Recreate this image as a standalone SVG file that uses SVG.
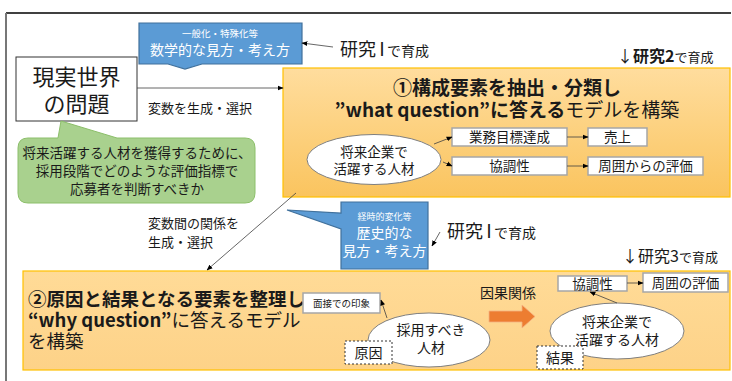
<svg xmlns="http://www.w3.org/2000/svg" width="732" height="381" viewBox="0 0 732 381">
<defs>
<linearGradient id="og1" x1="0" y1="0" x2="0" y2="1"><stop offset="0" stop-color="#ffdd9e"/><stop offset="1" stop-color="#fac45e"/></linearGradient>
<linearGradient id="og2" x1="0" y1="0" x2="0" y2="1"><stop offset="0" stop-color="#ffdb97"/><stop offset="1" stop-color="#fdd288"/></linearGradient>
<marker id="ah" viewBox="0 0 10 10" refX="9" refY="5" markerWidth="6" markerHeight="6" orient="auto" markerUnits="userSpaceOnUse"><path d="M0,1 L10,5 L0,9 z" fill="#000"/></marker>
<style>
text{font-family:"Noto Sans CJK JP","Noto Sans",sans-serif;fill:#1a1a1a}
.c{text-anchor:middle}
.w{fill:#fff}
.box{fill:#fff;stroke:#a6a6a6;stroke-width:1.5}
.dash{fill:#fff;stroke:#333;stroke-width:1;stroke-dasharray:2,2}
.ell{fill:#fff;stroke:#7f7f7f;stroke-width:1}
.blue{fill:#5b9bd5;stroke:#41719c;stroke-width:1.2}
.ln{fill:none;stroke:#404040;stroke-width:0.8;marker-end:url(#ah)}
.b{font-weight:bold}
</style>
</defs>
<rect width="732" height="381" fill="#fff"/>
<line x1="6" y1="13" x2="731" y2="13" stroke="#000" stroke-width="1.5"/>
<line x1="6" y1="13" x2="6" y2="381" stroke="#777" stroke-width="2"/>

<g id="orange1">
<rect x="283" y="68" width="447" height="129" fill="url(#og1)" stroke="#ffc000" stroke-width="1.2"/>
<text x="507" y="95" class="c b" font-size="19">①構成要素を抽出・分類し</text>
<text x="507" y="117" class="c" font-size="19"><tspan class="b">”what question”に答える</tspan>モデルを構築</text>
</g>

<g id="orange2">
<rect x="23" y="271" width="707" height="99" fill="url(#og2)" stroke="#ffc000" stroke-width="1.2"/>
<text x="28" y="306" class="b" font-size="18.5">②原因と結果となる要素を整理し</text>
<text x="28" y="327" font-size="18.5"><tspan class="b">“why question”</tspan>に答えるモデル</text>
<text x="28" y="348" font-size="18.5">を構築</text>
</g>

<g id="real">
<rect x="16" y="57" width="121" height="64" fill="#fff" stroke="#333" stroke-width="1"/>
<text x="76.5" y="85" class="c" font-size="22">現実世界</text>
<text x="76.5" y="112" class="c" font-size="22">の問題</text>
</g>

<g id="green">
<path d="M28,138 H58 L61,121 L117,138 H245 Q255,138 255,148 V193 Q255,203 245,203 H28 Q18,203 18,193 V148 Q18,138 28,138 Z" fill="#a9d18e" stroke="#8cbf6a" stroke-width="1"/>
<text x="137" y="158" class="c" font-size="13.5">将来活躍する人材を獲得するために、</text>
<text x="137" y="176" class="c" font-size="13.5">採用段階でどのような評価指標で</text>
<text x="137" y="194" class="c" font-size="13.5">応募者を判断すべきか</text>
</g>

<g id="blue1">
<path class="blue" d="M139,23 H302 V64 H202 L185,69 L168,64 H139 Z"/>
<text x="220" y="37" class="c w" font-size="9.5">一般化・特殊化等</text>
<text x="220" y="55" class="c w" font-size="14">数学的な見方・考え方</text>
</g>

<g id="blue2">
<path class="blue" d="M341,202 H428 V269 H341 V229 L287,210 L341,213 Z"/>
<text x="384.5" y="220" class="c w" font-size="9">経時的変化等</text>
<text x="384.5" y="238" class="c w" font-size="14">歴史的な</text>
<text x="384.5" y="256" class="c w" font-size="14">見方・考え方</text>
</g>

<g id="labels">
<text x="148" y="113" font-size="13">変数を生成・選択</text>
<text x="148" y="228" font-size="13">変数間の関係を</text>
<text x="148" y="247" font-size="13">生成・選択</text>
<text x="340" y="56" font-size="18">研究<tspan dx="-3">Ⅰ</tspan><tspan dx="-4" font-size="14">で育成</tspan></text>
<text x="447" y="238" font-size="18">研究<tspan dx="-3">Ⅰ</tspan><tspan dx="-4" font-size="14">で育成</tspan></text>
<text x="617" y="62" font-size="16">↓<tspan class="b">研究2</tspan><tspan font-size="13">で育成</tspan></text>
<text x="622" y="262" font-size="16">↓研究3<tspan font-size="13">で育成</tspan></text>
<text x="480" y="298" font-size="14">因果関係</text>
</g>

<g id="e1">
<ellipse cx="374" cy="159.5" rx="67" ry="25" class="ell"/>
<text x="374" y="157" class="c" font-size="13.5">将来企業で</text>
<text x="374" y="174" class="c" font-size="13.5">活躍する人材</text>
</g>
<g id="b_gyomu"><rect x="452" y="128" width="115" height="18" class="box"/><text x="509.5" y="142" class="c" font-size="13.5">業務目標達成</text></g>
<g id="b_kyocho1"><rect x="452" y="157" width="115" height="18" class="box"/><text x="509.5" y="171" class="c" font-size="13.5">協調性</text></g>
<g id="b_uriage"><rect x="588" y="128" width="59" height="18" class="box"/><text x="617.5" y="142" class="c" font-size="13.5">売上</text></g>
<g id="b_shui1"><rect x="588" y="157" width="115" height="18" class="box"/><text x="645.5" y="171" class="c" font-size="13.5">周囲からの評価</text></g>

<g id="b_mensetsu"><rect x="303" y="293" width="77" height="20" class="box"/><text x="341.5" y="307" class="c" font-size="9.5">面接での印象</text></g>
<g id="e2">
<ellipse cx="429" cy="340" rx="61" ry="27" class="ell"/>
<text x="431" y="335" class="c" font-size="14">採用すべき</text>
<text x="431" y="353" class="c" font-size="14">人材</text>
</g>
<g id="b_genin"><rect x="345" y="341" width="47" height="23" class="dash"/><text x="368.5" y="358" class="c" font-size="14">原因</text></g>

<g id="bigarrow"><path d="M489,311 H522 V305 L535,316.5 L522,328 V322 H489 Z" fill="#ed7d31" stroke="#f4b183" stroke-width="0.8"/></g>

<g id="e3">
<ellipse cx="617" cy="331" rx="67" ry="28" class="ell"/>
<text x="617" y="327" class="c" font-size="14">将来企業で</text>
<text x="617" y="345" class="c" font-size="14">活躍する人材</text>
</g>
<g id="b_kekka"><rect x="537" y="346" width="46" height="23" class="dash"/><text x="560" y="363" class="c" font-size="14">結果</text></g>
<g id="b_kyocho2"><rect x="558" y="276" width="69" height="15" class="box"/><text x="592.5" y="288.5" class="c" font-size="13.5">協調性</text></g>
<g id="b_shui2"><rect x="643" y="273" width="85" height="19" class="box"/><text x="685.5" y="287.5" class="c" font-size="13.5">周囲の評価</text></g>

<g id="connectors">
<line x1="137" y1="88" x2="283" y2="88" class="ln"/>
<line x1="333" y1="47" x2="302" y2="43" class="ln"/>
<line x1="296" y1="193" x2="207" y2="270" class="ln"/>
<line x1="440" y1="232" x2="432" y2="246" class="ln"/>
<line x1="434" y1="144" x2="452" y2="137" class="ln"/>
<line x1="443" y1="162" x2="452" y2="166" class="ln"/>
<line x1="567" y1="137" x2="588" y2="137" class="ln"/>
<line x1="567" y1="166" x2="588" y2="166" class="ln"/>
<line x1="387" y1="318" x2="381" y2="300" class="ln"/>
<line x1="617" y1="303" x2="590" y2="292" class="ln"/>
<line x1="627" y1="283" x2="643" y2="283" class="ln"/>
</g>
</svg>
